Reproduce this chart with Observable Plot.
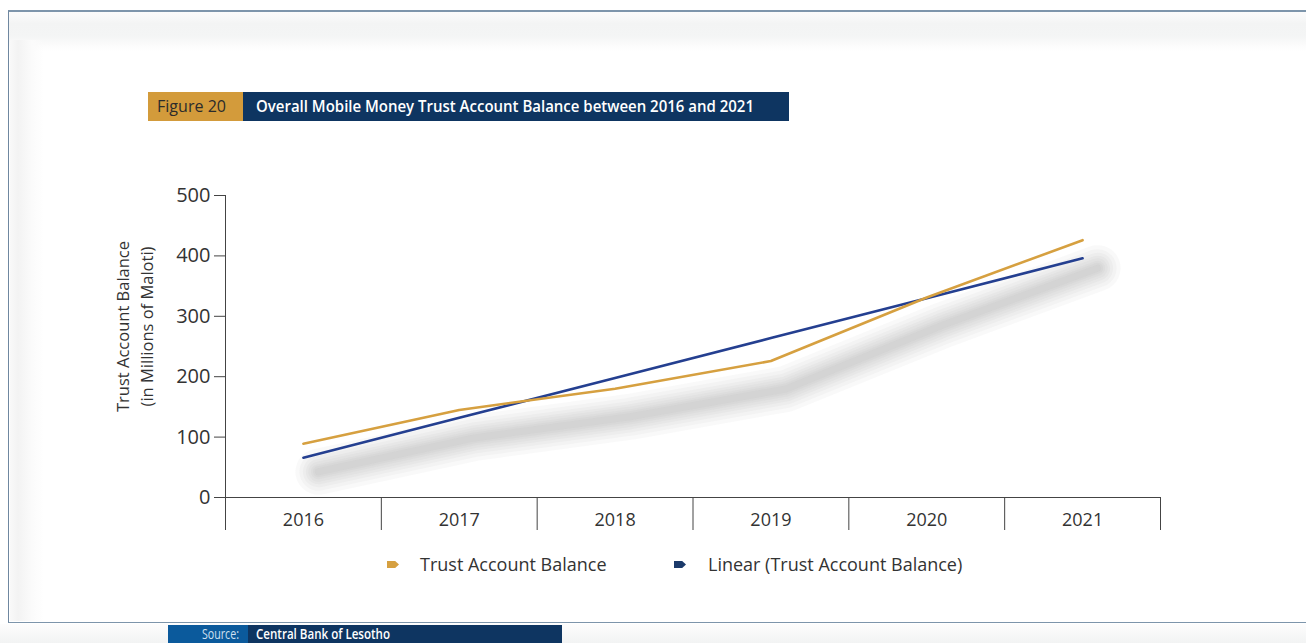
<!DOCTYPE html>
<html><head><meta charset="utf-8">
<script src="https://cdn.jsdelivr.net/npm/d3@7"></script>
<script src="https://cdn.jsdelivr.net/npm/@observablehq/plot@0.6"></script>
<style>
html,body{margin:0;padding:0;background:#fff;}
#page{position:relative;width:1306px;height:643px;overflow:hidden;font-family:"Open Sans",sans-serif;}
#frame{position:absolute;left:8px;top:10px;width:1320px;height:613px;border-top:2px solid #7d95ab;border-left:1.5px solid #6f87a0;border-bottom:1.5px solid #7d95ab;box-sizing:border-box;
  background:linear-gradient(to bottom,#fbfbfb 0px,#f3f4f4 12px,#f4f5f5 24px,#fcfcfc 34px,#fff 40px);}
#frameLeft{position:absolute;left:10px;top:40px;width:34px;height:581px;background:linear-gradient(to right,#f9f9f9 0px,#f3f3f3 8px,#fbfbfb 22px,rgba(255,255,255,0) 34px);}
#below{position:absolute;left:0;top:624px;width:1306px;height:19px;background:linear-gradient(to bottom,#fdfdfd,#f2f3f3);}
.box{position:absolute;box-sizing:border-box;white-space:nowrap;overflow:hidden;}
.box span{display:inline-block;transform-origin:0 50%;}
#figbox{left:148px;top:92px;width:95px;height:29px;background:#d39b3b;color:#2b2b2b;font-size:16px;line-height:29px;}
#titlebox{left:243px;top:92px;width:546px;height:29px;background:#0e3561;color:#fff;font-size:16px;font-weight:600;line-height:29px;}
#srcA{left:168px;top:625px;width:80px;height:18px;background:#0b5a9c;color:#cfe0f1;font-size:14px;line-height:18px;}
#srcB{left:248px;top:625px;width:314px;height:18px;background:#0e3561;color:#fff;font-size:14px;line-height:18px;font-weight:600;}
#chart{position:absolute;left:0;top:0;}
.lg{position:absolute;top:553px;height:22px;line-height:22px;font-size:18px;color:#333;white-space:nowrap;}
.mk{position:absolute;top:561px;width:12px;height:7px;clip-path:polygon(0 0,68% 0,100% 50%,68% 100%,0 100%);}
</style>
</head><body>
<div id="page">
  <div id="frame"></div>
  <div id="frameLeft"></div>
  <div id="below"></div>
  <div id="figbox" class="box"><span>Figure 20</span></div>
  <div id="titlebox" class="box"><span>Overall Mobile Money Trust Account Balance between 2016 and 2021</span></div>
  <div id="chart"></div>
  <div class="mk" style="left:387px;background:#d6a040"></div>
  <div class="lg" style="left:420px">Trust Account Balance</div>
  <div class="mk" style="left:674px;background:#1b3a6a"></div>
  <div class="lg" style="left:708px">Linear (Trust Account Balance)</div>
  <div id="srcA" class="box"><span>Source:</span></div>
  <div id="srcB" class="box"><span>Central Bank of Lesotho</span></div>
</div>
<script>
const years = [2016, 2017, 2018, 2019, 2020, 2021];
const balance = [89, 145, 180, 226, 331, 426];
const trend = [66, 132, 198, 264, 330, 396];
const yTicks = [0, 100, 200, 300, 400, 500];
const yTitle = "Trust Account Balance\n(in Millions of Maloti)";

const goldColor = "#d6a040";
const blueColor = "#243f90";

const bal = years.map((y, i) => ({year: y, value: balance[i]}));
const trd = years.map((y, i) => ({year: y, value: trend[i]}));
const edges = years.map(y => y - 0.5).concat([years[years.length - 1] + 0.5]);

// soft shadow built from stacked translucent strokes
const shadowWidths = [46, 38, 31, 25, 20, 15, 11, 7];
const shadowMarks = shadowWidths.map(w =>
  Plot.line(bal, {x: "year", y: "value", stroke: "#8a8a8a", strokeWidth: w, strokeOpacity: 0.05, dx: 15, dy: 28, strokeLinecap: "round"})
);

const chart = Plot.plot({
  width: 1306,
  height: 537,
  marginLeft: 225,
  marginRight: 146,
  marginTop: 195,
  marginBottom: 40,
  style: {background: "transparent", fontFamily: "Open Sans, sans-serif", color: "#333", overflow: "visible"},
  x: {domain: [edges[0], edges[edges.length - 1]]},
  y: {domain: [0, 500]},
  marks: [
    ...shadowMarks,
    Plot.axisY({ticks: yTicks, tickSize: 11, tickPadding: 4, fontSize: 20, stroke: "#444", label: null}),
    Plot.axisX({ticks: edges, tickSize: 33, tickFormat: () => "", stroke: "#444", label: null}),
    Plot.axisX({ticks: years, tickSize: 0, tickPadding: 16, fontSize: 18, tickFormat: d => String(d), label: null}),
    Plot.ruleY([0], {stroke: "#444"}),
    Plot.ruleX([edges[0]], {y1: 0, y2: 500, stroke: "#444"}),
    Plot.text([yTitle], {frameAnchor: "left", textAnchor: "middle", rotate: -90, dx: -92, dy: -20, fontSize: 16.5, lineHeight: 1.42, fill: "#333"}),
    Plot.line(trd, {x: "year", y: "value", stroke: blueColor, strokeWidth: 2.6}),
    Plot.line(bal, {x: "year", y: "value", stroke: goldColor, strokeWidth: 2.6})
  ]
});
document.getElementById("chart").appendChild(chart);

// fit condensed-looking labels into their measured widths
function fit(id, left, width) {
  const box = document.getElementById(id);
  const span = box.querySelector("span");
  const w = span.getBoundingClientRect().width;
  const bx = box.getBoundingClientRect().left;
  span.style.position = "absolute";
  span.style.left = (left - bx) + "px";
  span.style.transform = "scaleX(" + (width / w) + ")";
}
fit("figbox", 157, 69);
fit("titlebox", 256, 498);
fit("srcA", 202, 37);
fit("srcB", 256, 134);
</script>
</body></html>
